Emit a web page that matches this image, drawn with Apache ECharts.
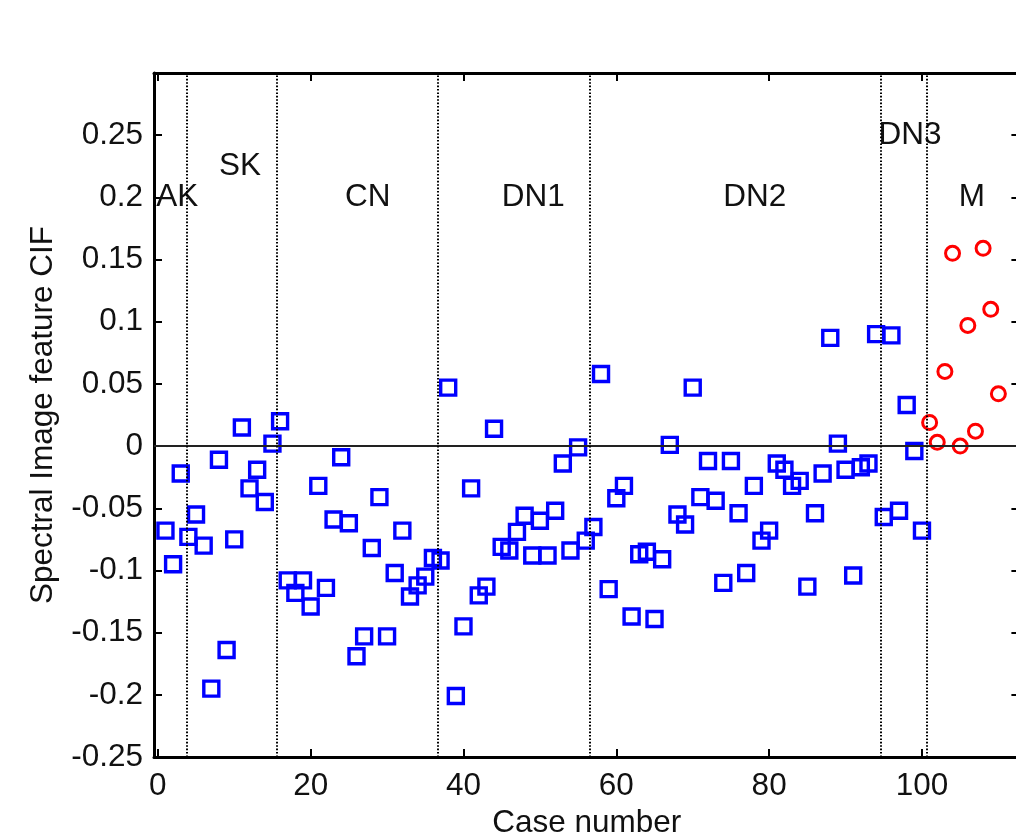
<!DOCTYPE html>
<html>
<head>
<meta charset="utf-8">
<script src="https://cdn.jsdelivr.net/npm/echarts@6/dist/echarts.min.js"></script>
<style>
  html, body { margin: 0; padding: 0; background: #ffffff; }
  #chart { width: 1016px; height: 838px; }
</style>
</head>
<body>
<div id="chart"></div>
<script>
// Spectral image feature CIF per case, grouped by diagnosis
const benignCases = Array.from({ length: 100 }, (_, i) => i + 1);
const benignCIF = [
  -0.068, -0.095, -0.022, -0.073, -0.055, -0.080, -0.195, -0.011, -0.164, -0.075,
   0.015, -0.034, -0.019, -0.045,  0.002,  0.020, -0.108, -0.118, -0.108, -0.129,
  -0.032, -0.114, -0.059, -0.009, -0.062, -0.169, -0.153, -0.082, -0.041, -0.153,
  -0.102, -0.068, -0.121, -0.112, -0.105, -0.090, -0.092,  0.047, -0.201, -0.145,
  -0.034, -0.120, -0.113,  0.014, -0.081, -0.084, -0.069, -0.056, -0.088, -0.060,
  -0.088, -0.052, -0.014, -0.084, -0.001, -0.076, -0.065,  0.058, -0.115, -0.042,
  -0.032, -0.137, -0.087, -0.085, -0.139, -0.091,  0.001, -0.055, -0.063,  0.047,
  -0.041, -0.012, -0.044, -0.110, -0.012, -0.054, -0.102, -0.032, -0.076, -0.068,
  -0.014, -0.019, -0.032, -0.028, -0.113, -0.054, -0.022,  0.087,  0.002, -0.019,
  -0.104, -0.017, -0.014,  0.090, -0.057,  0.089, -0.052,  0.033, -0.004, -0.068
];
const melanomaCases = [101, 102, 103, 104, 105, 106, 107, 108, 109, 110];
const melanomaCIF = [0.019, 0.003, 0.060, 0.155, 0.000, 0.097, 0.012, 0.159, 0.110, 0.042];

// Group boundaries (case number) and group names with their anchor points
const groupBounds = [3.8, 15.6, 36.6, 56.5, 94.6, 100.6];
const groupNames = ['AK', 'SK', 'CN', 'DN1', 'DN2', 'DN3', 'M'];
const groupNameX = [-0.2, 8, 24.5, 45, 74, 94.3, 104.8];
const groupNameY = [0.2, 0.225, 0.2, 0.2, 0.2, 0.25, 0.2];

// Tick values
const xTicks = [0, 20, 40, 60, 80, 100];
const yTicks = [-0.25, -0.2, -0.15, -0.1, -0.05, 0, 0.05, 0.1, 0.15, 0.2, 0.25];

const FONT = '"Liberation Sans", Arial, sans-serif';
const TEXT = '#111111';
const FS = 31.5;

const chart = echarts.init(document.getElementById('chart'), null, { renderer: 'canvas' });

const frameLine = { show: true, onZero: false, lineStyle: { color: '#000', width: 3 } };
const innerTick = (vals) => ({ show: true, inside: true, length: 8, customValues: vals, lineStyle: { color: '#000', width: 2 } });

chart.setOption({
  animation: false,
  backgroundColor: '#ffffff',
  grid: { left: 154, right: -3.4, top: 73, bottom: 81, containLabel: false, outerBoundsMode: 'none' },
  xAxis: [
    {
      type: 'value', position: 'bottom', min: -0.5, max: 112.75,
      axisLine: frameLine, axisTick: innerTick(xTicks),
      axisLabel: { customValues: xTicks, margin: 13, fontSize: FS, fontFamily: FONT, color: TEXT },
      splitLine: { show: false },
      name: 'Case number', nameLocation: 'middle', nameGap: 49,
      nameTextStyle: { fontSize: FS, fontFamily: FONT, color: TEXT }
    },
    {
      type: 'value', position: 'top', min: -0.5, max: 112.75,
      axisLine: frameLine, axisTick: innerTick(xTicks),
      axisLabel: { show: false }, splitLine: { show: false }
    }
  ],
  yAxis: [
    {
      type: 'value', position: 'left', min: -0.25, max: 0.3,
      axisLine: frameLine, axisTick: innerTick(yTicks),
      axisLabel: {
        customValues: yTicks, margin: 11, fontSize: FS, fontFamily: FONT, color: TEXT,
        formatter: (v) => String(Math.round(v * 100) / 100)
      },
      splitLine: { show: false },
      name: 'Spectral Image feature CIF', nameLocation: 'middle', nameGap: 95, nameRotate: 90,
      nameTextStyle: { fontSize: FS, fontFamily: FONT, color: TEXT }
    },
    {
      type: 'value', position: 'right', min: -0.25, max: 0.3,
      axisLine: frameLine, axisTick: innerTick(yTicks),
      axisLabel: { show: false }, splitLine: { show: false }
    }
  ],
  series: [
    {
      // reference lines: zero level and group separators
      type: 'line', data: [], silent: true,
      markLine: {
        silent: true, symbol: ['none', 'none'], label: { show: false },
        animation: false,
        data: [
          { yAxis: 0, lineStyle: { color: '#222', width: 2, type: 'solid' } },
          ...groupBounds.map(b => ({ xAxis: b, lineStyle: { color: '#000', width: 2, type: [1.6, 1.8] } }))
        ]
      }
    },
    {
      name: 'benign', type: 'scatter', symbol: 'rect', symbolSize: 15,
      data: benignCases.map((c, i) => [c, benignCIF[i]]),
      itemStyle: { color: 'rgba(0,0,0,0)', borderColor: '#0000ff', borderWidth: 3.4, opacity: 1 },
      z: 3
    },
    {
      name: 'melanoma', type: 'scatter', symbol: 'circle', symbolSize: 14,
      data: melanomaCases.map((c, i) => [c, melanomaCIF[i]]),
      itemStyle: { color: 'rgba(0,0,0,0)', borderColor: '#ff0000', borderWidth: 3, opacity: 1 },
      z: 3
    },
    {
      name: 'groups', type: 'scatter', symbolSize: 0, silent: true,
      data: groupNames.map((n, i) => [groupNameX[i], groupNameY[i], n]),
      itemStyle: { opacity: 1 },
      label: {
        show: true, position: 'right', distance: 0,
        formatter: (p) => p.data[2],
        fontSize: FS, fontFamily: FONT, color: TEXT
      },
      z: 4
    }
  ]
});
</script>
</body>
</html>
